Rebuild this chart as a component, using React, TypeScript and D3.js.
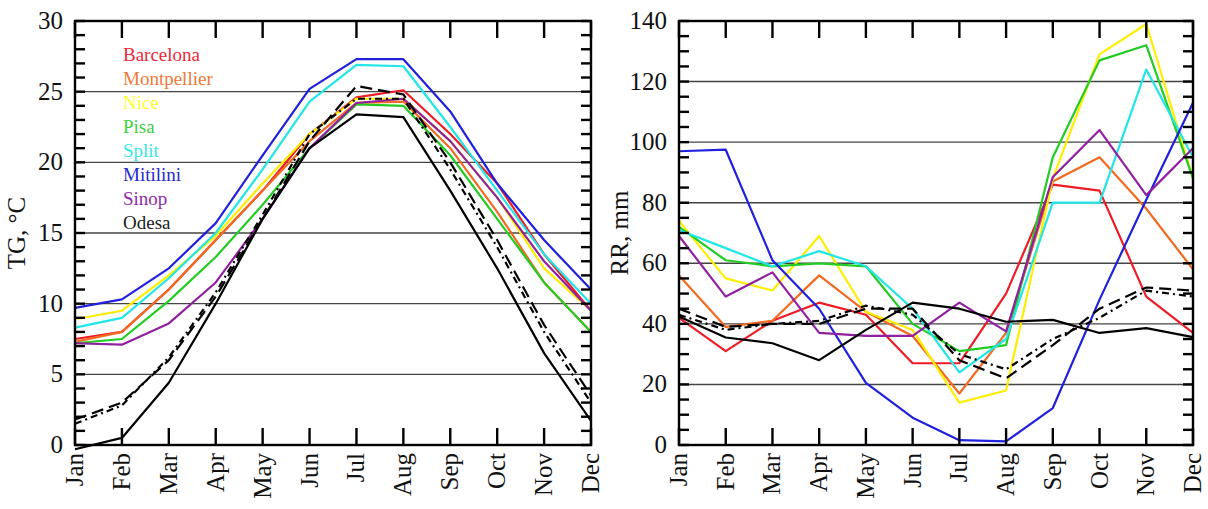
import React from "react";
import * as d3 from "d3";

const months = ["Jan","Feb","Mar","Apr","May","Jun","Jul","Aug","Sep","Oct","Nov","Dec"];

// Temperature TG, °C
const tgBarcelona = [7.5, 8.0, 11.0, 14.5, 18.0, 22.0, 24.6, 25.1, 22.0, 18.5, 13.5, 9.5];
const tgMontpellier = [7.3, 8.0, 11.0, 14.5, 18.0, 21.5, 24.2, 24.3, 21.0, 16.5, 11.5, 8.0];
const tgNice = [8.9, 9.5, 12.0, 14.8, 18.5, 22.0, 24.5, 24.5, 21.5, 17.5, 12.5, 9.5];
const tgPisa = [7.2, 7.5, 10.2, 13.3, 17.0, 21.0, 24.1, 24.0, 20.5, 16.0, 11.5, 8.0];
const tgSplit = [8.3, 9.0, 11.8, 15.0, 19.5, 24.3, 26.9, 26.8, 22.5, 18.0, 13.5, 10.0];
const tgMitilini = [9.7, 10.3, 12.5, 15.7, 20.5, 25.2, 27.3, 27.3, 23.6, 18.5, 14.5, 11.0];
const tgSinop = [7.2, 7.1, 8.6, 11.5, 16.0, 21.0, 24.2, 24.5, 21.5, 17.5, 13.0, 9.5];
const tgOdesa = [-0.3, 0.5, 4.4, 10.0, 16.0, 21.0, 23.4, 23.2, 18.0, 12.5, 6.5, 1.7];
const tgDashA = [1.8, 3.0, 6.0, 10.5, 16.0, 21.5, 25.4, 24.8, 20.0, 14.5, 8.5, 3.5];
const tgDashB = [1.5, 2.8, 6.2, 10.8, 16.3, 22.0, 24.5, 24.5, 19.5, 14.0, 8.0, 3.0];

// Precipitation RR, mm
const rrBarcelona = [42, 31, 41, 47, 43, 27, 27, 50, 86, 84, 49, 37];
const rrMontpellier = [56, 39, 41, 56, 44, 36, 17, 37, 87, 95, 78, 58];
const rrNice = [74, 55, 51, 69, 44, 38, 14, 18, 88, 129, 139, 88];
const rrPisa = [72, 61, 59, 60, 59, 40, 31, 33, 95, 127, 132, 88];
const rrSplit = [71, 65, 59, 64, 59, 45, 24, 35, 80, 80, 124, 95];
const rrMitilini = [97, 97.5, 61, 45, 20.5, 9, 1.6, 1.2, 12.2, 48, 81, 113];
const rrSinop = [69, 49, 57, 37, 36, 36, 47, 37.5, 88.5, 104, 82.5, 98];
const rrOdesa = [42.4, 35.5, 33.6, 28, 38, 47, 45, 40.7, 41.3, 37, 38.6, 35.6];
const rrDashA = [45, 39, 40, 40, 45, 45, 28, 22, 33, 45, 52, 51];
const rrDashB = [43, 38, 40, 41, 46, 43, 30, 25, 35, 42, 51, 49];

const legendNames = ["Barcelona","Montpellier","Nice","Pisa","Split","Mitilini","Sinop","Odesa"];
const legendColors = ["#e8283a","#f07838","#ffff30","#40d040","#38e8e8","#2828d0","#9028a8","#202020"];

const lineColors = ["#ee1c25","#f26a22","#ffee00","#22cc22","#22e6e6","#2020dd","#9020a0","#000000"];

const tempSeries = [tgBarcelona, tgMontpellier, tgNice, tgPisa, tgSplit, tgMitilini, tgSinop, tgOdesa];
const rainSeries = [rrBarcelona, rrMontpellier, rrNice, rrPisa, rrSplit, rrMitilini, rrSinop, rrOdesa];

const FONT = "'Liberation Serif', 'Times New Roman', serif";

type PanelProps = {
  x0: number; x1: number; y0: number; y1: number;
  max: number; labelStep: number; minorStep: number;
  title: string; titleX: number;
  series: number[][]; dashA: number[]; dashB: number[];
  legend?: boolean;
};

function Panel(p: PanelProps) {
  const x = d3.scalePoint<string>().domain(months).range([p.x0, p.x1]);
  const y = d3.scaleLinear().domain([0, p.max]).range([p.y1, p.y0]);
  const line = d3.line<number>().x((_, i) => x(months[i]) as number).y((v) => y(v));
  const labels = d3.range(0, p.max + 0.001, p.labelStep);
  const grid = labels.filter((v) => v > 0 && v < p.max);
  const minors = d3.range(0, p.max + 0.001, p.minorStep);
  return (
    <g>
      {grid.map((v) => (
        <line key={"g" + v} x1={p.x0} x2={p.x1} y1={y(v)} y2={y(v)} stroke="#444" strokeWidth={1.4} />
      ))}
      {p.series.map((s, i) => (
        <path key={"s" + i} d={line(s) as string} fill="none" stroke={lineColors[i]} strokeWidth={2.2} strokeLinejoin="round" />
      ))}
      <path d={line(p.dashA) as string} fill="none" stroke="#000" strokeWidth={2.2} strokeDasharray="12,6" />
      <path d={line(p.dashB) as string} fill="none" stroke="#000" strokeWidth={2.2} strokeDasharray="7,4,2,4" />
      <rect x={p.x0} y={p.y0} width={p.x1 - p.x0} height={p.y1 - p.y0} fill="none" stroke="#000" strokeWidth={2.4} />
      {months.map((m) => (
        <g key={"t" + m}>
          <line x1={x(m)} x2={x(m)} y1={p.y1} y2={p.y1 - 17} stroke="#000" strokeWidth={2.4} />
          <line x1={x(m)} x2={x(m)} y1={p.y0} y2={p.y0 + 17} stroke="#000" strokeWidth={2.4} />
          <text
            transform={`translate(${(x(m) as number) + 8},${p.y1 + 8}) rotate(-90)`}
            textAnchor="end"
            fontFamily={FONT}
            fontSize={25}
            fill="#111"
          >
            {m}
          </text>
        </g>
      ))}
      {minors.map((v) => (
        <g key={"m" + v}>
          <line x1={p.x0} x2={p.x0 + 10} y1={y(v)} y2={y(v)} stroke="#000" strokeWidth={2.4} />
          <line x1={p.x1} x2={p.x1 - 10} y1={y(v)} y2={y(v)} stroke="#000" strokeWidth={2.4} />
        </g>
      ))}
      {labels.map((v) => (
        <text key={"l" + v} x={p.x0 - 12} y={y(v) + 8} textAnchor="end" fontFamily={FONT} fontSize={25} fill="#111">
          {v}
        </text>
      ))}
      <text
        transform={`translate(${p.titleX},${(p.y0 + p.y1) / 2}) rotate(-90)`}
        textAnchor="middle"
        fontFamily={FONT}
        fontSize={25}
        fill="#111"
      >
        {p.title}
      </text>
      {p.legend &&
        legendNames.map((n, i) => (
          <text key={"lg" + n} x={123} y={61 + i * 24} fontFamily={FONT} fontSize={19} fill={legendColors[i]}>
            {n}
          </text>
        ))}
    </g>
  );
}

export default function App() {
  return (
    <svg width={1208} height={509} style={{ position: "absolute", left: 0, top: 0, background: "#fff" }}>
      <rect width={1208} height={509} fill="#fff" />
      <Panel x0={75} x1={591} y0={21} y1={445} max={30} labelStep={5} minorStep={1}
        title="TG, °C" titleX={25} series={tempSeries} dashA={tgDashA} dashB={tgDashB} legend />
      <Panel x0={679} x1={1193} y0={21} y1={445} max={140} labelStep={20} minorStep={5}
        title="RR, mm" titleX={628} series={rainSeries} dashA={rrDashA} dashB={rrDashB} />
    </svg>
  );
}
